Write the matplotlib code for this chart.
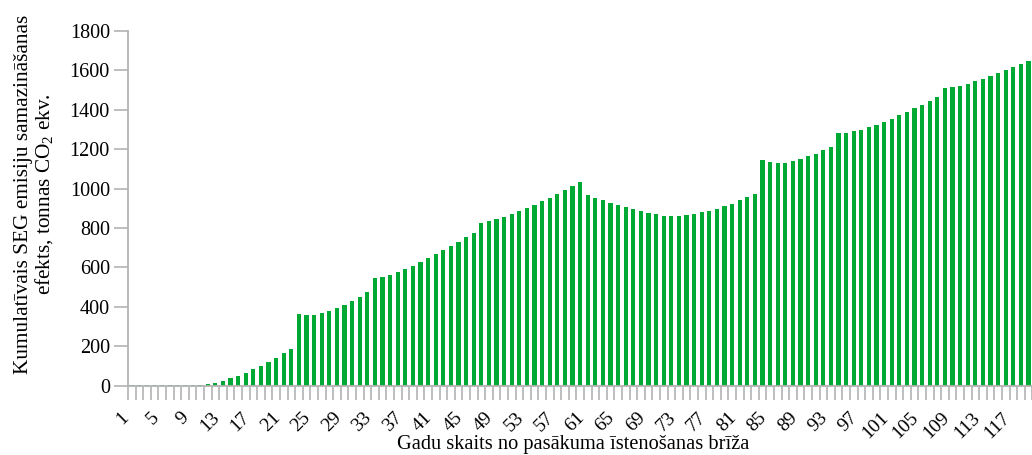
import matplotlib
matplotlib.use("Agg")
import matplotlib.pyplot as plt
import numpy as np

plt.rcParams['font.family'] = ['Liberation Serif', 'DejaVu Serif']
plt.rcParams['mathtext.fontset'] = 'custom'
plt.rcParams['mathtext.rm'] = 'Liberation Serif'

# Cumulative GHG emission reduction per year since implementation (t CO2 eq.)
years = list(range(1, 120))
cumulative = [
    3, 3, 3, 3, 3, 3, 3, 3, 3, 3,
    8, 14, 24, 39, 49, 64, 85, 100, 120, 141,
    166, 186, 364, 359, 359, 369, 379, 395, 410, 430,
    450, 476, 547, 552, 562, 577, 593, 608, 628, 649,
    669, 689, 709, 730, 755, 776, 826, 836, 847, 857,
    872, 887, 902, 918, 938, 953, 974, 994, 1015, 1035,
    969, 953, 943, 928, 918, 908, 898, 887, 877, 872,
    862, 862, 862, 867, 872, 882, 887, 897, 913, 923,
    943, 958, 974, 1146, 1136, 1131, 1131, 1141, 1151, 1166,
    1177, 1197, 1212, 1283, 1283, 1293, 1298, 1313, 1324, 1339,
    1354, 1375, 1390, 1410, 1426, 1446, 1466, 1512, 1517, 1522,
    1532, 1547, 1557, 1573, 1588, 1603, 1618, 1634, 1649,
]
tick_years = list(range(1, 118, 4))
y_ticks = list(range(0, 1801, 200))

bar_color = '#00a933'
axis_grey = '#b3b3b3'

fig = plt.figure(figsize=(10.32, 4.55), dpi=100)
ax = fig.add_axes([128 / 1032, 1 - 385.7 / 455, 1 - 128 / 1032 + 0.0003, (385.7 - 31) / 455])

ax.bar(years, cumulative, width=0.55, color=bar_color, linewidth=0)

ax.set_xlim(0.5, 119.5)
ax.set_ylim(0, 1800)

ax.set_yticks(y_ticks)
ax.set_yticklabels([str(v) for v in y_ticks], fontsize=14.5)
ax.tick_params(axis='y', direction='out', length=10, width=1.2, color=axis_grey, pad=3)

ax.set_xticks(tick_years)
ax.set_xticklabels([str(v) for v in tick_years], rotation=45, ha='right', va='top', fontsize=14)
ax.set_xticks(np.arange(0.5, 120, 1.0), minor=True)
ax.tick_params(axis='x', which='major', length=0, pad=17)
ax.tick_params(axis='x', which='minor', direction='out', length=10, width=1.2, color=axis_grey)

for side in ('top', 'right'):
    ax.spines[side].set_visible(False)
for side in ('left', 'bottom'):
    ax.spines[side].set_color(axis_grey)
    ax.spines[side].set_linewidth(1.3)

fig.text(573 / 1032, 1 - 445 / 455, 'Gadu skaits no pasākuma īstenošanas brīža',
         ha='center', va='center', fontsize=14.7)
fig.text(35 / 1032, 1 - 194 / 455,
         'Kumulatīvais SEG emisiju samazināšanas\nefekts, tonnas CO$_\\mathregular{2}$ ekv.',
         ha='center', va='center', rotation=90, fontsize=15.3, linespacing=1.05,
         multialignment='center')

fig.savefig('out.png', dpi=100)
